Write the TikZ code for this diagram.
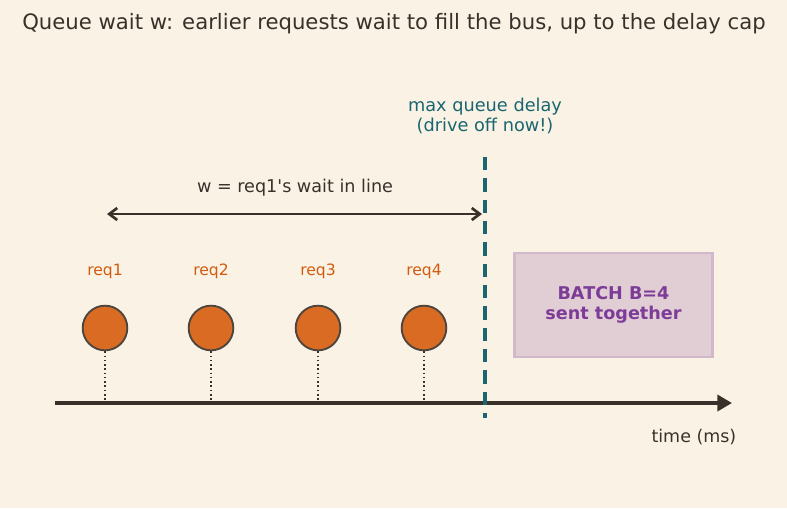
\documentclass[tikz,border=0pt]{standalone}
\usepackage{fontspec}
\setmainfont{DejaVu Sans}[Ligatures=TeXOff]
\usetikzlibrary{positioning}
\usetikzlibrary{arrows.meta}

\definecolor{bgcream}{HTML}{FAF3E5}
\definecolor{inkdark}{HTML}{3A302A}
\definecolor{reqorange}{HTML}{DA6B22}
\definecolor{reqlabel}{HTML}{D35A0E}
\definecolor{capteal}{HTML}{1A6570}
\definecolor{batchfill}{HTML}{E1CDD4}
\definecolor{batchedge}{HTML}{D2B8CB}
\definecolor{batchtext}{HTML}{7D3C98}

\tikzset{
  reqdot/.style={circle, draw=inkdark!90, fill=reqorange, line width=1.4pt, minimum size=33.5pt, inner sep=0pt},
  reqname/.style={text=reqlabel, font=\fontsize{11.7}{14}\selectfont},
  dropline/.style={inkdark, line width=1.2pt, dotted},
}

\begin{document}
\begin{tikzpicture}[x=0.75pt, y=-0.75pt]
                \fill[bgcream] (0,0) rectangle (787,508);
                \useasboundingbox (0,0) rectangle (787,508);

                \node[text=inkdark, font=\fontsize{15.9}{19}\selectfont] (title) at (394,24) {Queue wait w: earlier requests wait to fill the bus, up to the delay cap};

                % time axis
                \coordinate (t0) at (55,403);
                \coordinate (t1) at (732,403);
                \draw[inkdark, line width=2.8pt, -{Triangle[length=11pt, width=12pt]}] (t0) -- (t1);
                \node[text=inkdark, font=\fontsize{13.1}{15.5}\selectfont, anchor=north east] (tlabel) at (741,425) {time (ms)};

                % requests waiting
                \foreach \i/\x in {1/105, 2/211, 3/318, 4/424} {
                    \node[reqdot] (r\i) at (\x,328) {};
                    \node[reqname] (n\i) at (\x,271) {req\i};
                    \coordinate (a\i) at (\x,403);
                    \draw[dropline] (r\i) -- (a\i);
                }

                % delay cap
                \coordinate (c0) at (485,157);
                \coordinate (c1) at (485,418);
                \draw[capteal, line width=3pt, dash pattern=on 10pt off 6pt] (c0) -- (c1);
                \node[text=capteal, font=\fontsize{13.3}{15.5}\selectfont, align=center] (caplabel) at (485,116) {max queue delay\\(drive off now!)};

                % wait span
                \coordinate (w0) at (107,214);
                \coordinate (w1) at (482,214);
                \draw[inkdark, line width=2pt, {Straight Barb[length=6pt, width=9pt]}-{Straight Barb[length=6pt, width=9pt]}] (w0) -- (w1);
                \node[text=inkdark, font=\fontsize{13.2}{15.5}\selectfont] (wlabel) at (295,188) {w = req1's wait in line};

                % batch
                \node[draw=batchedge, fill=batchfill, line width=2.2pt, minimum width=148pt, minimum height=78pt, align=center,
                      text=batchtext, font=\fontsize{13.2}{15.5}\selectfont\bfseries] (batch) at (613.5,305) {BATCH B=4\\sent together};
            \end{tikzpicture}
\end{document}
